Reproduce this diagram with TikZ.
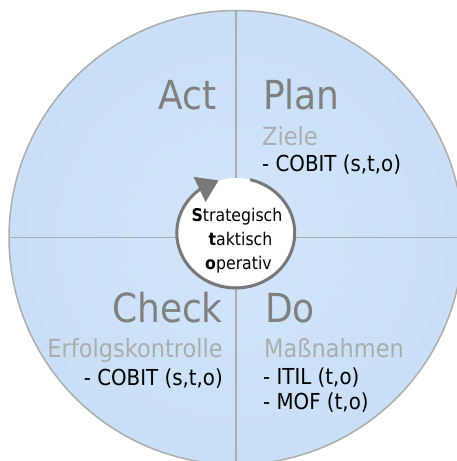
\documentclass[tikz,border=0pt]{standalone}
\usepackage{fontspec}
\setmainfont{DejaVu Sans}[FakeStretch=0.9]
\usepackage{tikz}
\usetikzlibrary{arrows.meta,bending}

\definecolor{discin}{RGB}{209,230,251}
\definecolor{discout}{RGB}{193,216,240}
\definecolor{linegray}{RGB}{172,172,172}
\definecolor{phasegray}{RGB}{128,128,128}
\definecolor{subgray}{RGB}{172,172,172}
\definecolor{arrowgray}{RGB}{120,120,120}
\pgfdeclareradialshading{discshade}{\pgfpoint{0bp}{0bp}}{color(0bp)=(discin); color(50bp)=(discout)}

\begin{document}
\begin{tikzpicture}[x=1pt,y=-1pt,
  phase/.style={text=phasegray,font=\fontsize{40}{40}\selectfont,inner sep=0pt},
  sub/.style={text=subgray,font=\fontsize{25}{25}\selectfont,inner sep=0pt},
  item/.style={text=black,font=\fontsize{22}{22}\selectfont,inner sep=0pt},
  core/.style={text=black,font=\fontsize{17.5}{17.5}\selectfont,inner sep=0pt,anchor=base}]
\clip (0,0) rectangle (457,461);
\coordinate (o) at (236,237.5);
\coordinate (c) at (236,232);

% Disc and quadrants
\shade[shading=discshade] (o) circle (227);
\draw[linegray,line width=1.5pt] (o) circle (227);
\draw[linegray,line width=1.5pt] (o) ++(0,-227) -- ++(0,454);
\draw[linegray,line width=1.5pt] (o) ++(-227,0) -- ++(454,0);

% Centre with cycle arrow
\fill[white] (c) ellipse [x radius=58, y radius=54];
\draw[arrowgray,line width=3pt,-{Triangle[length=21pt,width=27pt,flex=1]}]
  (c) ++(-76:58 and 54) arc[start angle=-76,end angle=253,x radius=59,y radius=55];
\node[core] (strat) at (237,221.5) {\textbf{S}trategisch};
\node[core] (takt) at (240.5,245) {\textbf{t}aktisch};
\node[core] (oper) at (238.5,269) {\textbf{o}perativ};

% Plan
\node[phase,anchor=base west] (plan) at (263,109) {Plan};
\node[sub,anchor=base west] (ziele) at (262,145) {Ziele};
\node[item,anchor=base west] (plancobit) at (262,171) {- COBIT (s,t,o)};

% Do
\node[phase,anchor=base west] (do) at (265,322) {Do};
\node[sub,anchor=base west] (massn) at (264,357) {Maßnahmen};
\node[item,anchor=base west] (itil) at (263,384) {- ITIL (t,o)};
\node[item,anchor=base west] (mof) at (263,409) {- MOF (t,o)};

% Check
\node[phase,anchor=base east] (check) at (223,322) {Check};
\node[sub,anchor=base east] (erfolg) at (223,357) {Erfolgskontrolle};
\node[item,anchor=base east] (checkcobit) at (223,385) {- COBIT (s,t,o)};

% Act
\node[phase,anchor=base east] (act) at (217,109) {Act};
\end{tikzpicture}
\end{document}
